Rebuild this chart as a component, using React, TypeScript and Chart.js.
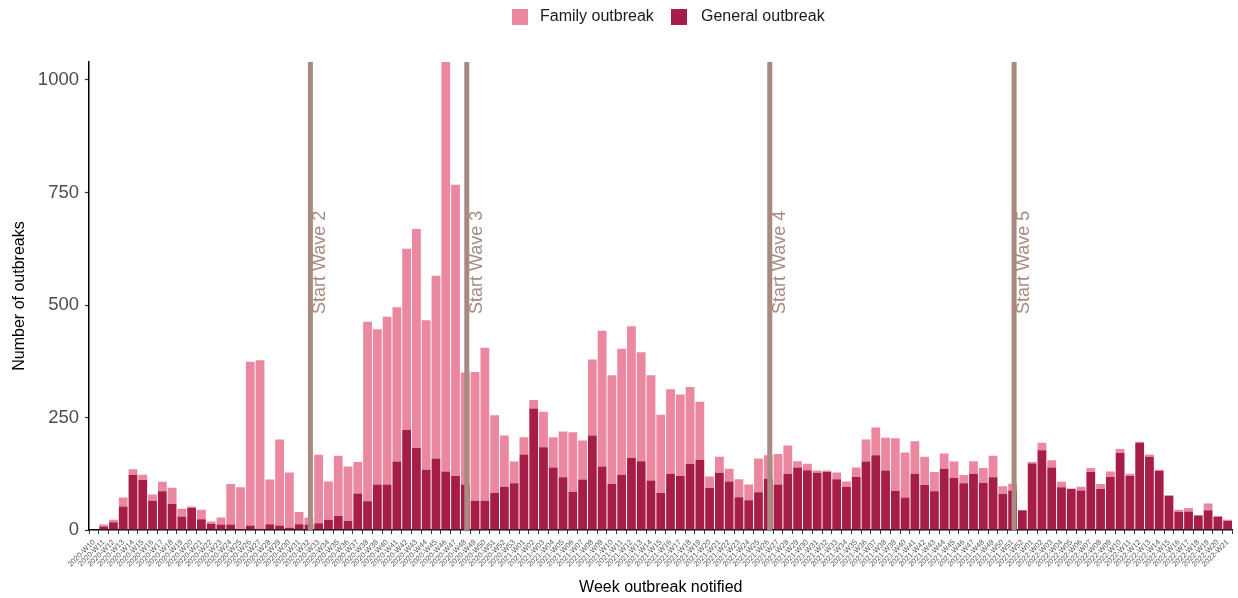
import React, { useEffect, useRef } from 'react';
import { Chart, registerables } from 'chart.js';

Chart.register(...registerables);

const FONT = '"Liberation Sans", Arial, Helvetica, sans-serif';

function weekRange(year: number, from: number, to: number): string[] {
  const out: string[] = [];
  for (let w = from; w <= to; w++) out.push(`${year}-W${String(w).padStart(2, '0')}`);
  return out;
}

// Categories: ISO weeks 2020-W10 .. 2022-W21
const weeks: string[] = [
  ...weekRange(2020, 10, 53),
  ...weekRange(2021, 1, 52),
  ...weekRange(2022, 1, 21),
];

const generalOutbreak: number[] = [
  0, 8, 17, 52, 122, 111, 65, 86, 58, 30, 49, 24, 14, 12, 12, 2, 10, 3, 13, 10,
  5, 13, 12, 15, 23, 31, 20, 81, 64, 101, 101, 152, 223, 182, 134, 159, 130, 120, 101, 65,
  65, 82, 96, 104, 168, 270, 184, 139, 117, 85, 112, 210, 141, 102, 123, 160, 153, 110, 82, 125,
  120, 147, 156, 94, 127, 108, 73, 66, 84, 114, 101, 125, 139, 133, 127, 129, 113, 96, 118, 152,
  166, 132, 87, 72, 125, 100, 86, 136, 116, 104, 125, 105, 117, 80, 88, 44, 148, 177, 139, 95,
  91, 88, 129, 91, 118, 171, 120, 194, 163, 131, 76, 40, 41, 32, 44, 29, 20,
];

const familyOutbreak: number[] = [
  0, 4, 6, 20, 13, 12, 14, 21, 36, 17, 3, 21, 5, 16, 90, 93, 364, 374, 99, 191,
  123, 27, 15, 152, 85, 134, 121, 70, 399, 345, 373, 343, 402, 487, 332, 406, 910, 647, 249, 286,
  340, 173, 114, 48, 38, 19, 79, 67, 102, 132, 87, 169, 302, 242, 280, 293, 242, 234, 174, 188,
  181, 171, 129, 25, 36, 28, 40, 35, 75, 52, 68, 63, 14, 14, 5, 3, 15, 12, 21, 49,
  62, 73, 117, 100, 72, 63, 43, 34, 36, 18, 28, 33, 48, 17, 15, 0, 3, 17, 16, 12,
  1, 8, 9, 11, 12, 9, 5, 2, 5, 3, 1, 5, 8, 1, 15, 2, 3,
];

const yTicks: number[] = [0, 250, 500, 750, 1000];

const waveWeeks: string[] = ['2020-W32', '2020-W48', '2021-W26', '2021-W51'];
const waveLabels: string[] = ['Start Wave 2', 'Start Wave 3', 'Start Wave 4', 'Start Wave 5'];
const waveLabelValue = 480;

const seriesNames = { family: 'Family outbreak', general: 'General outbreak' };
const COLOR_FAMILY = '#EB88A0';
const COLOR_GENERAL = '#A61E47';
const COLOR_WAVE = '#A88A80';

const xTitle = 'Week outbreak notified';
const yTitle = 'Number of outbreaks';

const overlayPlugin = {
  id: 'overlay',
  afterDatasetsDraw(chart: any) {
    const { ctx, chartArea, scales } = chart;
    const xs = scales.x;
    const ys = scales.y;
    ctx.save();
    waveWeeks.forEach((wk, k) => {
      const idx = weeks.indexOf(wk);
      if (idx < 0) return;
      const px = xs.getPixelForValue(idx) + 1.5;
      ctx.strokeStyle = COLOR_WAVE;
      ctx.lineWidth = 5;
      ctx.beginPath();
      ctx.moveTo(px, chartArea.top);
      ctx.lineTo(px, chartArea.bottom);
      ctx.stroke();
      ctx.save();
      ctx.translate(px + 1, ys.getPixelForValue(waveLabelValue));
      ctx.rotate(-Math.PI / 2);
      ctx.fillStyle = COLOR_WAVE;
      ctx.font = `18px ${FONT}`;
      ctx.textAlign = 'left';
      ctx.textBaseline = 'top';
      ctx.fillText(waveLabels[k], 0, 0);
      ctx.restore();
    });
    ctx.restore();
  },
  afterDraw(chart: any) {
    const { ctx, chartArea } = chart;
    ctx.save();
    // Legend
    ctx.font = `16px ${FONT}`;
    ctx.textBaseline = 'middle';
    ctx.textAlign = 'left';
    const ly = 17;
    ctx.fillStyle = COLOR_FAMILY;
    ctx.fillRect(512, ly - 8, 16, 16);
    ctx.fillStyle = '#1A1A1A';
    ctx.fillText(seriesNames.family, 540, ly);
    ctx.fillStyle = COLOR_GENERAL;
    ctx.fillRect(671, ly - 8, 16, 16);
    ctx.fillStyle = '#1A1A1A';
    ctx.fillText(seriesNames.general, 701, ly);
    // X title
    ctx.textAlign = 'center';
    ctx.fillStyle = '#000000';
    ctx.fillText(xTitle, (chartArea.left + chartArea.right) / 2, 588);
    // Y title
    ctx.save();
    ctx.translate(20, (chartArea.top + chartArea.bottom) / 2);
    ctx.rotate(-Math.PI / 2);
    ctx.fillText(yTitle, 0, 0);
    ctx.restore();
    ctx.restore();
  },
};

export default function App() {
  const canvasRef = useRef<HTMLCanvasElement | null>(null);

  useEffect(() => {
    const canvas = canvasRef.current;
    if (!canvas) return;
    const totals = generalOutbreak.map((g, i) => g + familyOutbreak[i]);
    const yMax = Math.max(...totals);
    const chart = new Chart(canvas, {
      type: 'bar',
      data: {
        labels: weeks,
        datasets: [
          {
            label: seriesNames.general,
            data: generalOutbreak,
            backgroundColor: COLOR_GENERAL,
            borderWidth: 0,
            barPercentage: 0.9,
            categoryPercentage: 1.0,
            stack: 's',
          },
          {
            label: seriesNames.family,
            data: familyOutbreak,
            backgroundColor: COLOR_FAMILY,
            borderWidth: 0,
            barPercentage: 0.9,
            categoryPercentage: 1.0,
            stack: 's',
          },
        ],
      },
      options: {
        animation: false,
        responsive: false,
        layout: { padding: { top: 62, right: 4, left: 0, bottom: 0 } },
        plugins: {
          legend: { display: false },
          tooltip: { enabled: false },
          title: { display: false },
        },
        scales: {
          x: {
            type: 'category',
            stacked: true,
            offset: true,
            grid: {
              display: true,
              drawOnChartArea: false,
              drawTicks: true,
              tickLength: 4,
              tickColor: '#333333',
              tickWidth: 1,
            },
            border: { display: true, color: '#000000', width: 1.5 },
            ticks: {
              autoSkip: false,
              maxRotation: 45,
              minRotation: 45,
              padding: 4,
              color: '#5A5A5A',
              font: { family: FONT, size: 7.5 },
            },
            afterFit: (s: any) => {
              s.height = 68;
            },
          },
          y: {
            stacked: true,
            min: 0,
            max: yMax,
            grid: {
              display: true,
              drawOnChartArea: false,
              drawTicks: true,
              tickLength: 4,
              tickColor: '#333333',
              tickWidth: 1.2,
            },
            border: { display: true, color: '#000000', width: 1.5 },
            ticks: {
              padding: 6,
              color: '#4D4D4D',
              font: { family: FONT, size: 18.5 },
              callback: (v: any) => String(v),
            },
            afterBuildTicks: (s: any) => {
              s.ticks = yTicks.map((v) => ({ value: v }));
            },
            afterFit: (s: any) => {
              s.width = 89;
            },
          },
        },
      },
      plugins: [overlayPlugin],
    });
    return () => chart.destroy();
  }, []);

  return (
    <div style={{ position: 'absolute', left: 0, top: 0, width: 1238, height: 598, background: '#ffffff' }}>
      <canvas ref={canvasRef} width={1238} height={598} style={{ width: 1238, height: 598, display: 'block' }} />
    </div>
  );
}
